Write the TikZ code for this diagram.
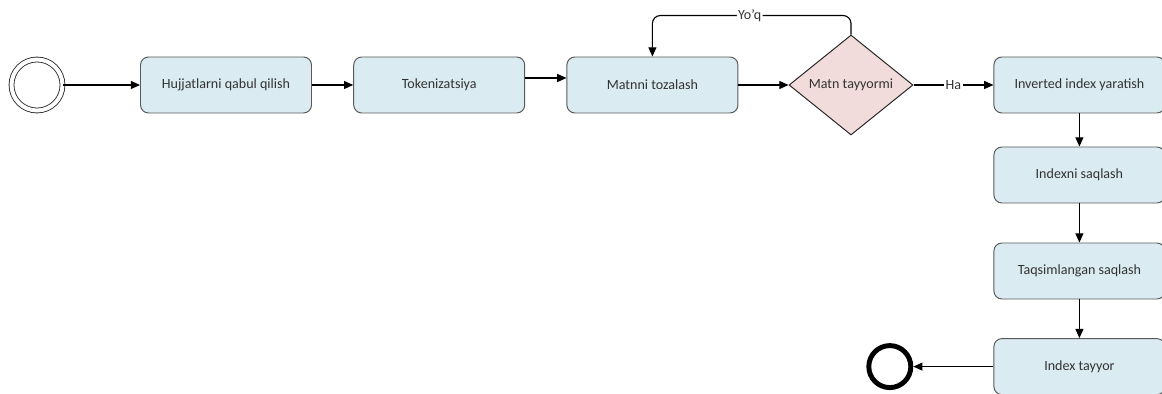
\documentclass[tikz,border=0pt]{standalone}
\usepackage{fontspec}
\setmainfont{Carlito}
\usetikzlibrary{shapes, arrows.meta}
\definecolor{boxblue}{HTML}{DAEBF2}
\definecolor{boxpink}{HTML}{F2DCDB}
\definecolor{edgegray}{HTML}{5A5A5A}
\tikzstyle{process} = [rectangle, rounded corners=0.2cm, minimum width=4.275cm, minimum height=1.4cm, text centered, draw=edgegray, line width=0.7pt, fill=boxblue, text=black!80, font=\fontsize{10}{12}\selectfont]
\tikzstyle{decision} = [diamond, minimum width=3.1cm, minimum height=2.5cm, inner sep=0pt, text centered, draw=black!85, line width=0.7pt, fill=boxpink, text=black!80, font=\fontsize{10}{12}\selectfont]
\tikzstyle{startevent} = [circle, draw=black!85, line width=0.6pt, double, double distance=0.1cm, minimum size=1.275cm, inner sep=0pt]
\tikzstyle{endevent} = [circle, draw, line width=3.5pt, minimum size=1.05cm, inner sep=0pt]
\tikzstyle{tag} = [fill=white, inner sep=1pt, text=black!80, font=\fontsize{10}{12}\selectfont]
\tikzstyle{line} = [draw, -{Triangle[length=0.23cm, width=0.2cm]}, line width=0.8pt]

\begin{document}
\begin{tikzpicture}[node distance=5.33cm]
  \useasboundingbox (0,0) rectangle (29.05,-9.85);
  %% nodes
  % top row
  \node [process] (hujjat) at (5.65,-2.125) {Hujjatlarni qabul qilish};
  \node [startevent, left of=hujjat, node distance=4.725cm] (start) {};
  \node [process, right of=hujjat] (token) {Tokenizatsiya};
  \node [process, right of=token] (tozalash) {Matnni tozalash};
  \node [decision, right of=tozalash, xshift=-0.365cm] (tayyormi) {Matn tayyormi};
  \node [process, right of=tayyormi, xshift=0.38cm] (inverted) {Inverted index yaratish};
  % right column
  \node [process, node distance=2.25cm, below of=inverted] (saqlash) {Indexni saqlash};
  \node [process, node distance=2.4cm, below of=saqlash] (taqsim) {Taqsimlangan saqlash};
  \node [process, node distance=2.39cm, below of=taqsim] (ready) {Index tayyor};
  \node [endevent, left of=ready, node distance=4.74cm] (finish) {};
  %% edges
  \path [line] (start) -- (hujjat);
  \path [line] (hujjat) -- (token);
  \path [line] ([yshift=0.175cm]token.east) -- ([yshift=0.175cm]tozalash.west);
  \path [line] (tozalash) -- (tayyormi);
  % decision branches
  \path [line, rounded corners=0.2cm] (tayyormi.north) --++ (0cm, 0.475cm) -| (tozalash.north) node[tag, pos=0.255] {Yo’q};
  \path [line] (tayyormi) -- (inverted) node[tag, midway] {Ha};
  % down the right side
  \path [line] (inverted) -- (saqlash);
  \path [line] (saqlash) -- (taqsim);
  \path [line] (taqsim) -- (ready);
  \path [line] (ready) -- (finish);
\end{tikzpicture}
\end{document}
